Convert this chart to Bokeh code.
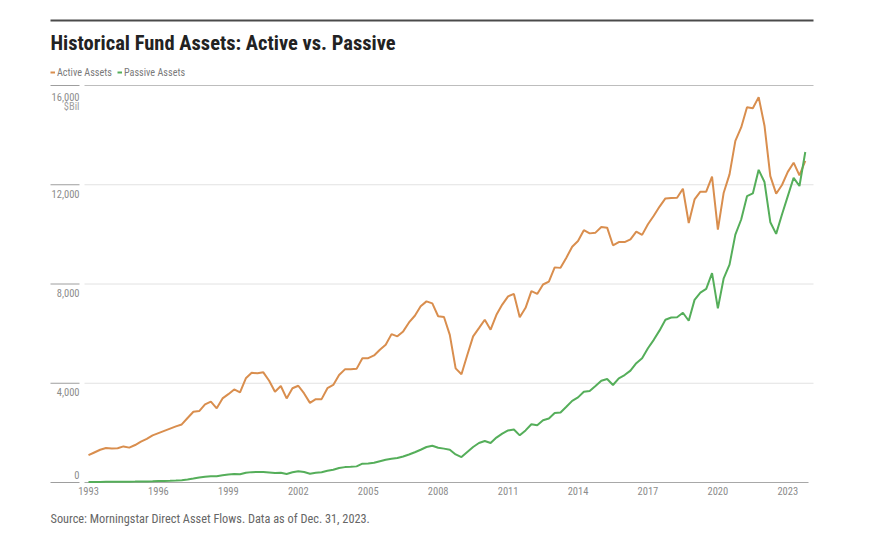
from bokeh.plotting import figure
from bokeh.models import Range1d, FixedTicker, Title, Legend, LegendItem
from bokeh.core.properties import value
from bokeh.embed import file_html
from bokeh.resources import INLINE

# ---------------- data ----------------
TITLE = "Historical Fund Assets: Active vs. Passive"
SOURCE = "Source: Morningstar Direct Asset Flows. Data as of Dec. 31, 2023."
UNIT = "$Bil"
series_names = ["Active Assets", "Passive Assets"]
start_year = 1993
x_ticks = [1993, 1996, 1999, 2002, 2005, 2008, 2011, 2014, 2017, 2020, 2023]
y_ticks = [0, 4000, 8000, 12000, 16000]
y_tick_labels = ["0", "4,000", "8,000", "12,000", "16,000"]

# quarterly values, $Bil (one row per year)
active = [
    1100, 1210, 1320, 1390,
    1375, 1380, 1455, 1405,
    1510, 1650, 1760, 1900,
    1990, 2080, 2170, 2260,
    2340, 2600, 2850, 2880,
    3150, 3260, 2990, 3390,
    3560, 3750, 3630, 4200,
    4420, 4400, 4440, 4100,
    3660, 3890, 3390, 3800,
    3900, 3590, 3210, 3360,
    3360, 3800, 3930, 4330,
    4560, 4560, 4580, 5010,
    5010, 5120, 5350, 5550,
    5980, 5890, 6090, 6450,
    6720, 7100, 7300, 7220,
    6700, 6670, 5950, 4600,
    4360, 5140, 5890, 6220,
    6560, 6160, 6760, 7170,
    7500, 7600, 6660, 7040,
    7710, 7600, 7980, 8100,
    8670, 8650, 9060, 9500,
    9730, 10170, 10040, 10070,
    10300, 10270, 9560, 9690,
    9690, 9800, 10110, 9980,
    10410, 10750, 11120, 11450,
    11470, 11475, 11840, 10460,
    11410, 11720, 11720, 12330,
    10190, 11680, 12420, 13770,
    14310, 15120, 15080, 15530,
    14380, 12350, 11640, 11990,
    12520, 12890, 12380, 12960,
]
passive = [
    20, 22, 25, 28,
    30, 30, 32, 33,
    36, 40, 45, 50,
    58, 65, 72, 80,
    95, 120, 160, 205,
    235, 255, 250, 290,
    324, 340, 330, 395,
    418, 420, 420, 400,
    380, 395, 345, 410,
    455, 420, 355, 390,
    410, 470, 515, 585,
    620, 630, 650, 760,
    770, 795, 860, 920,
    960, 985, 1050, 1130,
    1220, 1320, 1430, 1480,
    1400, 1365, 1320, 1130,
    1025, 1230, 1430, 1590,
    1670, 1590, 1810, 1970,
    2100, 2135, 1900, 2100,
    2350, 2310, 2510, 2580,
    2800, 2820, 3050, 3290,
    3430, 3660, 3690, 3890,
    4100, 4170, 3930, 4200,
    4330, 4510, 4810, 5010,
    5410, 5750, 6130, 6560,
    6650, 6660, 6840, 6520,
    7360, 7650, 7800, 8440,
    7020, 8230, 8780, 9990,
    10600, 11540, 11650, 12600,
    12110, 10490, 10020, 10800,
    11540, 12280, 11950, 13320,
]
quarters = [start_year + 0.25 * i for i in range(len(active))]

# ---------------- styling / layout ----------------
FONT = "Roboto Condensed, Roboto"
ORANGE = "#D98E4E"
GREEN = "#55AE5A"

FW, FH = 873, 484          # frame = page x 0..873, page y 0..484
PX_YR = 23.31              # pixels per year
XS = 1993 - 88 / PX_YR     # 1993 sits at page x 88
XE = XS + FW / PX_YR
PX_VAL = 16000 / 397.0     # value per pixel (0 at page y 482, 16000 at 85)
YS = -(484 - 482) * PX_VAL
YE = YS + FH * PX_VAL


def xp(px):
    return XS + px / PX_YR


def yp(py):
    return (482 - py) * PX_VAL


p = figure(frame_width=FW, frame_height=FH,
           x_range=Range1d(XS, XE), y_range=Range1d(YS, YE),
           output_backend="svg", toolbar_location=None,
           y_axis_location=None, min_border=0,
           outline_line_color=None,
           background_fill_color="white", border_fill_color="white")
p.grid.visible = False

# x axis (real axis, labels only)
xa = p.xaxis[0]
xa.ticker = FixedTicker(ticks=x_ticks)
xa.major_label_overrides = {t: str(t) for t in x_ticks}
xa.axis_line_color = None
xa.major_tick_line_color = None
xa.minor_tick_line_color = None
xa.major_tick_out = 0
xa.major_tick_in = 0
xa.major_label_standoff = 2
xa.major_label_text_font = FONT
xa.major_label_text_font_size = "10.5px"
xa.major_label_text_color = "#8c8c8c"

# source note below
p.add_layout(Title(text=SOURCE, align="left", offset=50, standoff=25,
                   text_font=FONT, text_font_size="12.3px",
                   text_font_style="normal", text_color="#666666"), "below")

# top rule
p.segment(x0=[xp(50)], y0=[yp(20)], x1=[xp(813)], y1=[yp(20)],
          line_color="#4a4a4a", line_width=2)

# title
p.text(x=[xp(50)], y=[yp(42.5)], text=[TITLE], text_font=value(FONT),
       text_font_style="bold", text_font_size="20.5px", text_color="#222222",
       text_align="left", text_baseline="alphabetic")

# gridlines
grid_vals = [v for v in y_ticks if v > 0]
p.segment(x0=[xp(84)] * len(grid_vals), y0=grid_vals,
          x1=[xp(813)] * len(grid_vals), y1=grid_vals,
          line_color=["#bdbdbd" if v == max(y_ticks) else "#e2e2e2" for v in grid_vals],
          line_width=1)
# short tick rules at left under labels
p.segment(x0=[xp(50)] * len(y_ticks), y0=y_ticks,
          x1=[xp(79)] * len(y_ticks), y1=y_ticks,
          line_color="#9e9e9e", line_width=1)
# baseline
p.segment(x0=[xp(84)], y0=[0], x1=[xp(808)], y1=[0],
          line_color="#a8a8a8", line_width=1.2)

# y tick labels (right aligned, under their rule; "0" above)
label_y = []
for v in y_ticks:
    if v == 0:
        label_y.append(v + 8 * PX_VAL)
    elif v == max(y_ticks):
        label_y.append(v - 11 * PX_VAL)
    else:
        label_y.append(v - 9 * PX_VAL)
p.text(x=[xp(79)] * len(y_ticks), y=label_y, text=y_tick_labels,
       text_font=value(FONT), text_font_size="10.5px", text_color="#8c8c8c",
       text_align="right", text_baseline="alphabetic")
p.text(x=[xp(79)], y=[max(y_ticks) - 20.5 * PX_VAL], text=[UNIT],
       text_font=value(FONT), text_font_size="10.5px", text_color="#a0a0a0",
       text_align="right", text_baseline="alphabetic")

# series
r_act = p.line(quarters, active, line_color=ORANGE, line_width=2)
r_pas = p.line(quarters, passive, line_color=GREEN, line_width=2)

legend = Legend(items=[LegendItem(label=series_names[0], renderers=[r_act]),
                       LegendItem(label=series_names[1], renderers=[r_pas])],
                orientation="horizontal", location=(50, 406),
                glyph_width=5, glyph_height=12, label_height=12,
                label_standoff=2, spacing=5, padding=0, margin=0,
                border_line_color=None, background_fill_alpha=0,
                label_text_font=FONT, label_text_font_size="10.2px",
                label_text_color="#7a7a7a")
p.add_layout(legend)

open("out.html", "w").write(file_html(p, INLINE))
